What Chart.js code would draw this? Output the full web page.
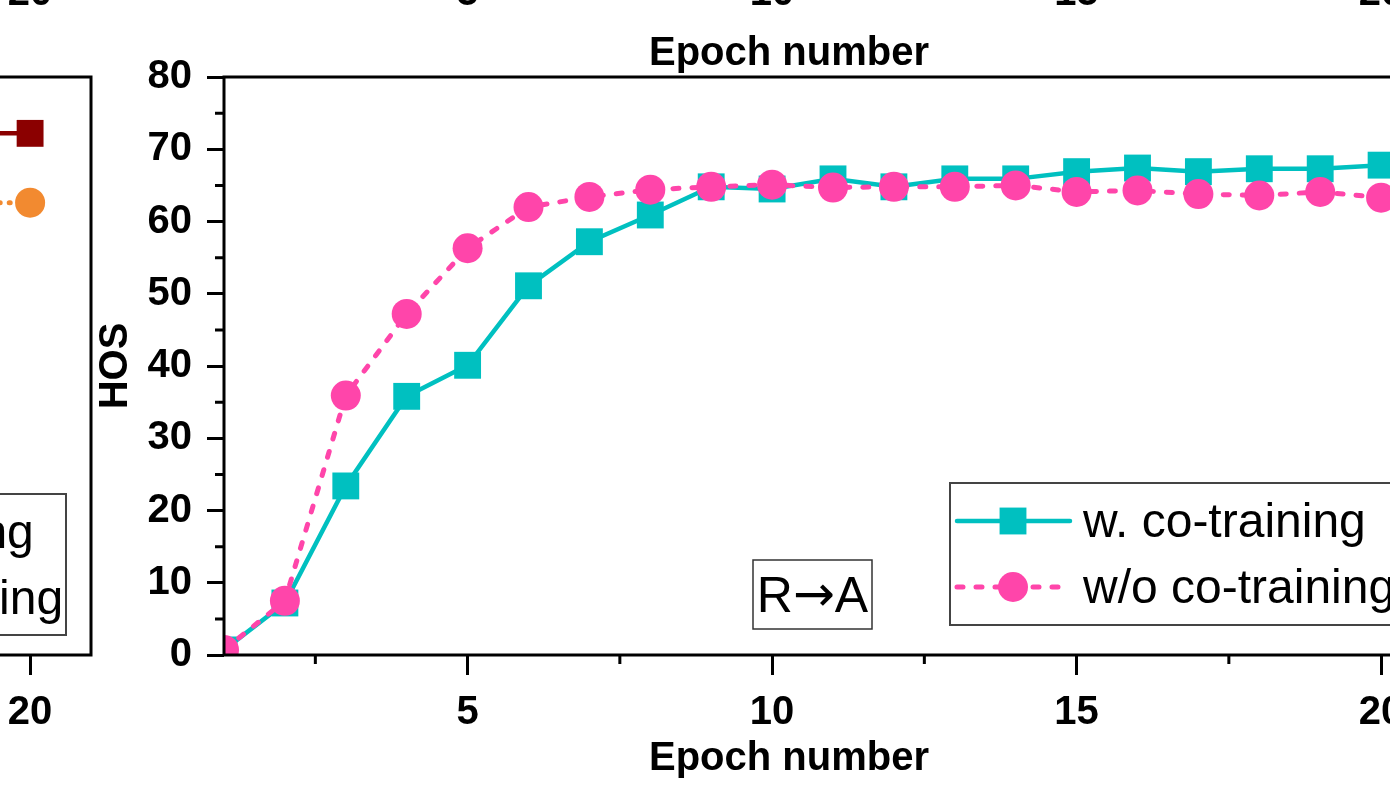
<!DOCTYPE html>
<html>
<head>
<meta charset="utf-8">
<script src="https://cdn.jsdelivr.net/npm/chart.js"></script>
<style>
  html, body { margin: 0; padding: 0; background: #fff; overflow: hidden; width: 1390px; height: 787px; }
  canvas { position: absolute; top: 0; }
  #main { left: 0; }
  #left { left: -1351px; }
</style>
</head>
<body>
<canvas id="left" width="1461" height="787"></canvas>
<canvas id="main" width="1461" height="787"></canvas>
<script>
// R->A panel
const epochs = [1, 2, 3, 4, 5, 6, 7, 8, 9, 10, 11, 12, 13, 14, 15, 16, 17, 18, 19, 20];
const withCo = [0.7, 7.2, 23.4, 35.8, 40.1, 51.1, 57.2, 60.9, 64.8, 64.5, 65.9, 64.8, 65.9, 65.9, 66.9, 67.4, 66.9, 67.3, 67.3, 67.8];
const withoutCo = [0.7, 7.5, 35.9, 47.2, 56.3, 62.0, 63.4, 64.4, 64.8, 65.1, 64.7, 64.8, 64.8, 65.0, 64.1, 64.3, 63.8, 63.6, 64.1, 63.3];

// neighbouring panel on the left, only its last epochs are visible
const leftEpochs = [19, 20];
const leftWithCo = [72.2, 72.2];
const leftWithoutCo = [62.6, 62.6];

const seriesNames = ['w. co-training', 'w/o co-training'];
const xMajor = [5, 10, 15, 20];
const xMinor = [2.5, 7.5, 12.5, 17.5];
const yMinor = [5, 15, 25, 35, 45, 55, 65, 75];
const xTitle = 'Epoch number';
const yTitle = 'HOS';
const FONT = '"Liberation Sans", Arial, Helvetica, sans-serif';

Chart.defaults.font.family = FONT;
Chart.defaults.color = '#000';

function drawMarker(ctx, ds, x, y) {
  ctx.fillStyle = ds.pointBackgroundColor;
  if (Chart.helpers && Chart.helpers.drawPoint) {
    Chart.helpers.drawPoint(ctx, { pointStyle: ds.pointStyle, radius: ds.pointRadius, rotation: 0, borderWidth: 0 }, x, y);
  } else {
    ctx.beginPath();
    if (ds.pointStyle === 'rect') {
      const s = ds.pointRadius * Math.SQRT1_2;
      ctx.rect(x - s, y - s, 2 * s, 2 * s);
    } else {
      ctx.arc(x, y, ds.pointRadius, 0, Math.PI * 2);
    }
    ctx.fill();
  }
}

// "R→A": the arrow of Liberation Sans is tiny, so take it from DejaVu
function drawTag(ctx, text, cx, baseline) {
  const parts = text.split('\u2192');
  const fA = '50px ' + FONT, fB = '50px "DejaVu Sans", sans-serif';
  ctx.font = fA; const w1 = ctx.measureText(parts[0]).width, w3 = ctx.measureText(parts[1]).width;
  ctx.font = fB; const w2 = ctx.measureText('\u2192').width;
  let x = cx - (w1 + w2 + w3) / 2;
  ctx.textAlign = 'left';
  ctx.font = fA; ctx.fillText(parts[0], x, baseline); x += w1;
  ctx.font = fB; ctx.fillText('\u2192', x, baseline - 1); x += w2;
  ctx.font = fA; ctx.fillText(parts[1], x, baseline);
}

const panelDeco = {
  id: 'panelDeco',
  afterDraw(chart, args, opts) {
    const { ctx, chartArea: a, scales: { x, y } } = chart;
    ctx.save();
    // frame
    ctx.strokeStyle = '#000';
    ctx.lineWidth = 3;
    ctx.strokeRect(a.left, a.top, a.right - a.left, a.bottom - a.top);
    // minor ticks
    ctx.beginPath();
    yMinor.forEach(v => {
      const py = y.getPixelForValue(v);
      ctx.moveTo(a.left - 9, py); ctx.lineTo(a.left, py);
    });
    xMinor.forEach(v => {
      const px = x.getPixelForValue(v);
      ctx.moveTo(px, a.bottom); ctx.lineTo(px, a.bottom + 9);
    });
    ctx.stroke();

    // x titles (this panel and the one above) + the upper panel's tick labels
    ctx.fillStyle = '#000';
    ctx.font = 'bold 40px ' + FONT;
    ctx.textAlign = 'center';
    ctx.textBaseline = 'alphabetic';
    ctx.fillText(xTitle, a.left + 565, 770);
    ctx.fillText(xTitle, a.left + 565, 65);
    xMajor.forEach(v => ctx.fillText(String(v), x.getPixelForValue(v), 5));

    // legend box
    const lg = opts.legend;
    ctx.lineWidth = 2;
    ctx.strokeStyle = '#444';
    ctx.strokeRect(lg.x, lg.y, lg.w, lg.h);
    chart.data.datasets.forEach((ds, i) => {
      const ry = lg.y + 38 + i * 66;
      ctx.save();
      ctx.strokeStyle = ds.borderColor;
      ctx.lineWidth = ds.borderWidth;
      ctx.lineCap = 'round';
      ctx.setLineDash(ds.borderDash || []);
      ctx.beginPath();
      ctx.moveTo(lg.x + 7, ry); ctx.lineTo(lg.x + 120, ry);
      ctx.stroke();
      ctx.restore();
      drawMarker(ctx, ds, lg.x + 63, ry);
      ctx.fillStyle = '#000';
      ctx.font = '48px ' + FONT;
      ctx.textAlign = 'left';
      ctx.fillText(ds.label, lg.x + lg.textDx, ry + 16);
    });

    // panel tag
    if (opts.tag) {
      const t = opts.tag;
      ctx.lineWidth = 1.5;
      ctx.strokeStyle = '#333';
      ctx.strokeRect(t.x, t.y, t.w, t.h);
      ctx.fillStyle = '#000';
      drawTag(ctx, t.text, t.x + t.w / 2, t.y + 52);
    }
    ctx.restore();
  }
};

function makePanel(id, xs, series, colors, deco) {
  const styles = [
    { pointStyle: 'rect', pointRadius: 19, borderDash: [], borderWidth: 4.5, order: 1 },
    { pointStyle: 'circle', pointRadius: 15, borderDash: deco.dash, borderWidth: 5, order: 0 }
  ];
  return new Chart(document.getElementById(id), {
    type: 'line',
    data: {
      datasets: series.map((vals, i) => ({
        label: seriesNames[i],
        data: xs.map((e, k) => ({ x: e, y: vals[k] })),
        borderColor: colors[i],
        backgroundColor: colors[i],
        pointBackgroundColor: colors[i],
        pointBorderColor: colors[i],
        pointBorderWidth: 0,
        borderCapStyle: 'round',
        tension: 0,
        clip: 0,
        ...styles[i]
      }))
    },
    options: {
      responsive: false,
      devicePixelRatio: 1,
      animation: false,
      events: [],
      layout: { padding: { left: 0, top: 77, right: 0, bottom: 0 } },
      plugins: {
        legend: { display: false },
        tooltip: { enabled: false },
        panelDeco: deco
      },
      scales: {
        x: {
          type: 'linear',
          min: 1,
          max: 21,
          afterBuildTicks: s => { s.ticks = xMajor.map(v => ({ value: v })); },
          afterFit: s => { s.height = 132; },
          grid: { drawOnChartArea: false, drawTicks: true, tickLength: 20, lineWidth: 3, color: '#000' },
          border: { display: false },
          ticks: { font: { size: 40, weight: 'bold' }, color: '#000', padding: 14, maxRotation: 0, autoSkip: false }
        },
        y: {
          min: 0,
          max: 80,
          afterFit: s => { s.width = 224; },
          grid: { drawOnChartArea: false, drawTicks: true, tickLength: 17, lineWidth: 3, color: '#000' },
          border: { display: false },
          ticks: { stepSize: 10, font: { size: 40, weight: 'bold' }, color: '#000', padding: 15 },
          title: { display: true, text: yTitle, font: { size: 40, weight: 'bold' }, color: '#000', padding: { top: 92, bottom: 0 } }
        }
      }
    },
    plugins: [panelDeco]
  });
}

makePanel('left', leftEpochs, [leftWithCo, leftWithoutCo], ['#8B0000', '#F28A30'], {
  dash: [1, 9],
  legend: { x: 957, y: 494, w: 460, h: 141, textDx: 145 },
  tag: null
});

makePanel('main', epochs, [withCo, withoutCo], ['#00C0C0', '#FF45AA'], {
  dash: [6, 13],
  legend: { x: 950, y: 483, w: 460, h: 142, textDx: 133 },
  tag: { x: 753, y: 560, w: 119, h: 69, text: 'R\u2192A' }
});
</script>
</body>
</html>
